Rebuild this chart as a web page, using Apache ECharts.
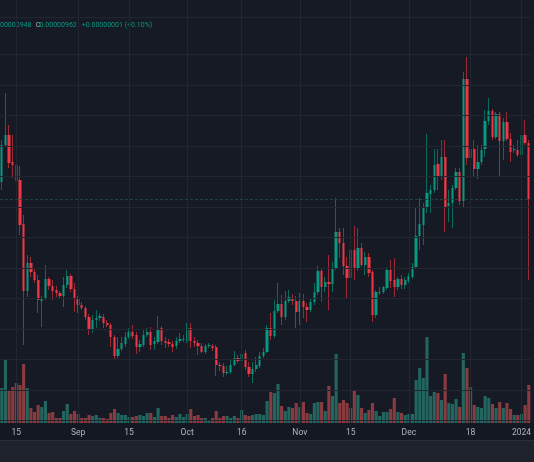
<!DOCTYPE html>
<html>
<head>
<meta charset="utf-8">
<script src="https://cdn.jsdelivr.net/npm/echarts@6/dist/echarts.min.js"></script>
<style>
html,body{margin:0;padding:0;background:#161a25;}
#chart{width:534px;height:462px;}
</style>
</head>
<body>
<div id="chart"></div>
<script>
// daily candles from 2023-08-11, prices in 1e-8 units (962 -> 0.00000962)
var startDate = '2023-08-11';

var opens = [
    979,1016,1026,999,996,981,937,870,898,889,
    881,860,863,882,875,871,868,865,876,885,
    872,862,856,853,844,831,841,843,844,838,
    836,824,805,812,817,824,829,826,814,816,
    826,829,817,819,833,820,819,817,815,820,
    821,820,833,820,818,815,809,815,815,814,
    796,795,788,789,796,803,800,808,794,787,
    792,795,805,809,833,825,850,857,844,860,
    863,860,849,860,854,851,859,869,890,874,
    879,877,892,929,918,895,883,911,893,913,
    896,904,889,846,868,869,873,891,881,874,
    882,876,880,884,894,925,936,954,967,971,
    997,984,1004,955,958,973,989,960,1082,1003,
    1012,992,999,1012,1040,1050,1024,1047,1020,1039,
    1022,1011,1011,1006,1026,1018
];
var closes = [
    1016,1026,998,996,980,936,870,898,889,881,
    861,863,882,875,870,868,865,876,885,872,
    862,856,853,844,831,841,843,845,838,836,
    824,805,812,818,824,829,825,814,817,826,
    829,816,820,832,820,818,817,814,820,822,
    822,833,820,818,815,809,815,816,813,796,
    795,788,789,796,803,800,807,794,787,792,
    796,805,809,833,825,850,857,844,860,864,
    860,849,860,854,851,859,869,890,874,879,
    877,893,929,918,895,883,911,893,913,896,
    904,888,846,869,869,874,891,880,874,882,
    876,881,885,894,925,937,954,968,971,996,
    984,1004,954,958,973,989,960,1082,1003,1012,
    992,999,1011,1040,1050,1024,1047,1020,1039,1022,
    1009,1012,1006,1026,1018,962
];
var lows = [
    971,1015,993,983,949,926,816,864,884,878,
    848,834,861,871,861,864,863,854,873,869,
    849,848,851,841,826,828,833,840,833,834,
    814,801,803,810,814,822,822,807,809,814,
    824,811,811,817,816,813,814,809,812,818,
    819,818,813,814,806,808,807,813,810,785,
    790,784,786,787,795,798,798,791,784,778,
    789,793,803,808,821,823,848,836,841,858,
    856,833,836,843,839,849,856,866,859,869,
    851,869,891,903,886,863,881,881,890,894,
    886,884,839,843,866,867,871,873,864,871,
    872,872,878,882,893,911,916,948,948,968,
    971,981,929,939,933,971,956,953,996,958,
    985,982,996,1004,1036,1021,1022,984,1001,1020,
    999,1008,1004,1004,1016,881
];
var highs = [
    1021,1068,1036,1026,1025,995,946,906,904,893,
    886,865,896,884,881,875,870,884,891,887,
    878,865,859,855,847,846,851,848,847,841,
    838,826,824,824,829,833,836,829,821,831,
    833,834,824,845,835,824,822,820,824,828,
    826,838,838,824,821,818,817,818,817,816,
    799,798,795,801,810,806,819,811,799,799,
    804,809,813,836,848,861,878,866,870,871,
    867,865,868,867,858,863,878,895,893,884,
    906,899,963,933,933,904,914,935,933,918,
    909,908,891,871,874,875,894,901,903,884,
    886,884,888,898,954,963,958,1027,976,1012,
    1012,1021,1021,971,976,993,993,1089,1104,1018,
    1021,1016,1016,1051,1063,1052,1049,1049,1043,1049,
    1028,1016,1021,1031,1041,1021
];
var volumes = [
    35,63,32,36,40,38,59,35,15,11,
    18,16,22,10,11,5,5,12,19,9,
    12,9,5,5,8,7,8,5,5,4,
    10,14,10,8,8,6,6,7,8,7,
    10,10,6,15,7,7,5,8,6,9,
    6,9,14,7,8,5,5,3,5,12,
    5,7,7,5,7,5,13,8,7,8,
    9,9,8,22,31,30,39,17,12,16,
    15,20,16,21,10,9,20,21,21,12,
    37,27,69,20,23,20,15,32,28,15,
    10,13,20,12,7,11,11,14,25,11,
    10,8,9,9,43,55,45,86,27,31,
    30,23,49,20,19,24,16,70,55,36,
    18,16,15,27,25,19,15,21,15,20,
    14,8,8,9,18,38
];

var tickDates = ['2023-08-15','2023-09-01','2023-09-15','2023-10-01','2023-10-16',
    '2023-11-01','2023-11-15','2023-12-01','2023-12-18','2024-01-01'];
var tickLabels = ['15','Sep','15','Oct','16','Nov','15','Dec','18','2024'];
var gridPrices = [1144,1106.5,1076,1045.5,1015,984.5,954,923.5,893,862.5,832,801.5,771,740.5];
var lastPrice = 962;

// dates
var dates = [];
var t0 = Date.parse(startDate + 'T00:00:00Z');
for (var i = 0; i < opens.length; i++) {
    dates.push(new Date(t0 + i * 86400000).toISOString().slice(0, 10));
}
var labelOf = {};
tickDates.forEach(function (d, k) { labelOf[d] = tickLabels[k]; });

var UP = '#089981', DOWN = '#f23645';
var wickData = [], bodyData = [], volData = [], blank = [];
for (var i = 0; i < opens.length; i++) {
    var o = opens[i], c = closes[i];
    wickData.push([o, c, lows[i], highs[i]]);
    bodyData.push([o, c, Math.min(o, c), Math.max(o, c)]);
    volData.push({
        value: volumes[i],
        itemStyle: {color: c >= o ? '#22665f' : '#8a3b3f'}
    });
    blank.push(null);
}

var FONT = 'Roboto, sans-serif';
var myChart = echarts.init(document.getElementById('chart'));
var option = {
    backgroundColor: '#161a25',
    animation: false,
    grid: {left: -1.24, right: -1.2, top: 0, bottom: 39},
    xAxis: {
        type: 'category',
        data: dates,
        boundaryGap: true,
        axisLine: {show: false},
        axisTick: {show: false},
        splitLine: {show: false},
        axisLabel: {
            interval: function (idx, val) { return labelOf[val] !== undefined; },
            formatter: function (val) { return labelOf[val]; },
            color: '#b2b5be',
            fontSize: 8.5,
            fontFamily: FONT,
            margin: 5
        }
    },
    yAxis: [
        {type: 'value', min: 738, max: 1161, show: false, splitLine: {show: false}},
        {type: 'value', min: 0, max: 423, show: false, splitLine: {show: false}}
    ],
    graphic: [
        {type: 'rect', shape: {x: 0, y: 423, width: 534, height: 17}, style: {fill: '#141823'}},
        {type: 'rect', shape: {x: 0, y: 440, width: 534, height: 22}, style: {fill: '#1e222d'}},
        {type: 'line', shape: {x1: 0, y1: 440.5, x2: 534, y2: 440.5}, style: {stroke: '#2a2e39', lineWidth: 1}},
        {type: 'text', x: 0, y: 25.3, style: {text: '00000948', fill: UP, fontSize: 7, fontFamily: FONT, verticalAlign: 'middle'}},
        {type: 'text', x: 35.7, y: 25.3, style: {text: 'C', fill: '#b2b5be', fontSize: 7, fontFamily: FONT, verticalAlign: 'middle'}},
        {type: 'text', x: 39.5, y: 25.3, style: {text: '0.00000962', fill: UP, fontSize: 7, fontFamily: FONT, verticalAlign: 'middle'}},
        {type: 'text', x: 81.7, y: 25.3, style: {text: '+0.00000001 (+0.10%)', fill: UP, fontSize: 7, fontFamily: FONT, verticalAlign: 'middle'}}
    ],
    series: [
        {
            // grid lines
            type: 'line',
            data: blank,
            z: 1,
            silent: true,
            markLine: {
                silent: true,
                symbol: ['none', 'none'],
                label: {show: false},
                lineStyle: {color: '#222631', width: 1, type: 'solid'},
                data: tickDates.map(function (d) { return {xAxis: d}; })
                    .concat(gridPrices.map(function (v) { return {yAxis: v}; }))
            }
        },
        {
            name: 'Volume',
            type: 'bar',
            yAxisIndex: 1,
            barWidth: '86%',
            data: volData,
            z: 2
        },
        {
            name: 'wick',
            type: 'candlestick',
            barWidth: 1,
            data: wickData,
            z: 3,
            itemStyle: {
                color: '#0a6b5c', color0: '#9a2b35',
                borderColor: '#0a6b5c', borderColor0: '#9a2b35',
                borderWidth: 1
            }
        },
        {
            name: 'body',
            type: 'candlestick',
            barWidth: 2.8,
            data: bodyData,
            z: 4,
            itemStyle: {
                color: UP, color0: DOWN,
                borderColor: UP, borderColor0: DOWN,
                borderWidth: 0
            },
            markLine: {
                silent: true,
                symbol: ['none', 'none'],
                label: {show: false},
                lineStyle: {color: '#1b4442', width: 1, type: [3, 2]},
                data: [{yAxis: lastPrice}]
            }
        }
    ]
};
myChart.setOption(option);
</script>
</body>
</html>
